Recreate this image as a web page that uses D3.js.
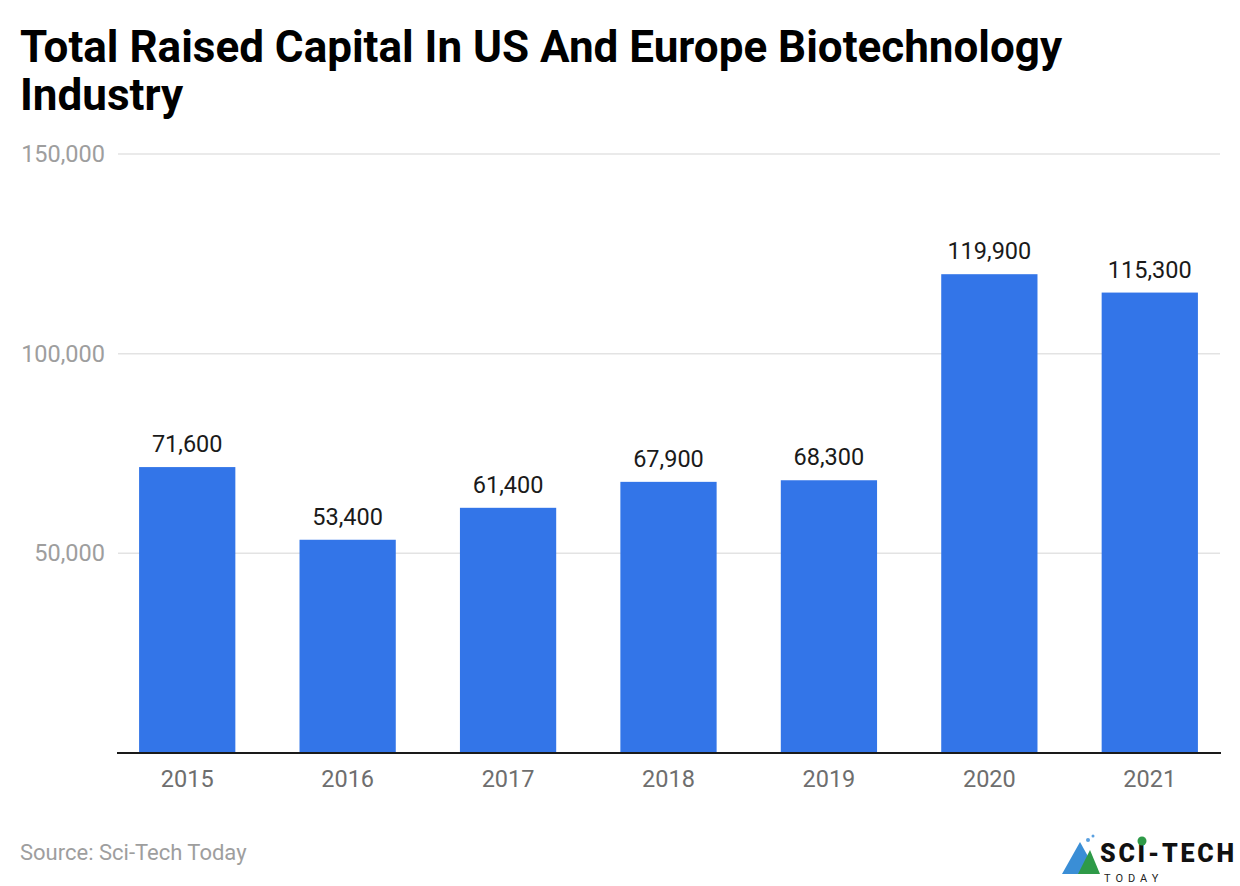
<!DOCTYPE html>
<html><head><meta charset="utf-8">
<script src="https://cdn.jsdelivr.net/npm/d3@7"></script>
<style>body{margin:0;background:#fff;font-family:Roboto,sans-serif}</style>
</head><body>
<svg id="c" width="1240" height="886"></svg>
<script>
const categories = ["2015","2016","2017","2018","2019","2020","2021"];
const values = [71600,53400,61400,67900,68300,119900,115300];
const yTicks = [50000,100000,150000];

const svg = d3.select("#c");
const x = d3.scaleBand().domain(categories).range([107,1230]).paddingInner(0.4).paddingOuter(0.2);
const y = d3.scaleLinear().domain([0,150000]).range([753,154]);
const fmt = d3.format(",");

svg.append("text").attr("x",20).attr("y",62).attr("font-size",44).attr("font-weight",700).attr("fill","#000")
  .text("Total Raised Capital In US And Europe Biotechnology");
svg.append("text").attr("x",20).attr("y",110).attr("font-size",44).attr("font-weight",700).attr("fill","#000")
  .text("Industry");

// grid
svg.selectAll("line.g").data(yTicks).enter().append("line")
  .attr("x1",118).attr("x2",1220).attr("y1",d=>y(d)).attr("y2",d=>y(d))
  .attr("stroke","#e3e3e3").attr("stroke-width",1.5);
svg.selectAll("text.yl").data(yTicks).enter().append("text")
  .attr("x",105).attr("y",d=>y(d)+8).attr("text-anchor","end").attr("font-size",23.5).attr("fill","#9e9e9e")
  .text(d=>fmt(d));

svg.selectAll("rect.b").data(values).enter().append("rect")
  .attr("x",(d,i)=>x(categories[i])).attr("width",x.bandwidth())
  .attr("y",d=>y(d)).attr("height",d=>y(0)-y(d)).attr("fill","#3375e8");

svg.selectAll("text.v").data(values).enter().append("text")
  .attr("x",(d,i)=>x(categories[i])+x.bandwidth()/2).attr("y",d=>y(d)-15)
  .attr("text-anchor","middle").attr("font-size",23.5).attr("fill","#1a1a1a").text(d=>fmt(d));

svg.append("line").attr("x1",117).attr("x2",1221).attr("y1",y(0)).attr("y2",y(0)).attr("stroke","#1a1a1a").attr("stroke-width",2);

svg.selectAll("text.xl").data(categories).enter().append("text")
  .attr("x",d=>x(d)+x.bandwidth()/2).attr("y",787).attr("text-anchor","middle")
  .attr("font-size",23.5).attr("fill","#6e6e6e").text(d=>d);

svg.append("text").attr("x",20).attr("y",860).attr("font-size",22).attr("fill","#9e9e9e").text("Source: Sci-Tech Today");

// logo
const g = svg.append("g");
g.append("path").attr("d","M1062,874 L1080,842 L1090,860 L1084,874 Z").attr("fill","#3a8ed6");
g.append("path").attr("d","M1078,874 L1090,850 L1100,874 Z").attr("fill","#2e9a48");
g.append("circle").attr("cx",1088).attr("cy",840).attr("r",2).attr("fill","#5aa0e0");
g.append("circle").attr("cx",1093).attr("cy",836).attr("r",1.5).attr("fill","#5aa0e0");
g.append("text").attr("x",1100).attr("y",862).attr("font-size",25).attr("font-weight",900).attr("fill","#111")
  .attr("textLength",134).text("SCI-TECH");
g.append("circle").attr("cx",1142).attr("cy",841).attr("r",4.5).attr("fill","#2e9a48");
g.append("text").attr("x",1104).attr("y",882).attr("font-size",11).attr("fill","#222").attr("letter-spacing",5).text("TODAY");
</script>
</body></html>
